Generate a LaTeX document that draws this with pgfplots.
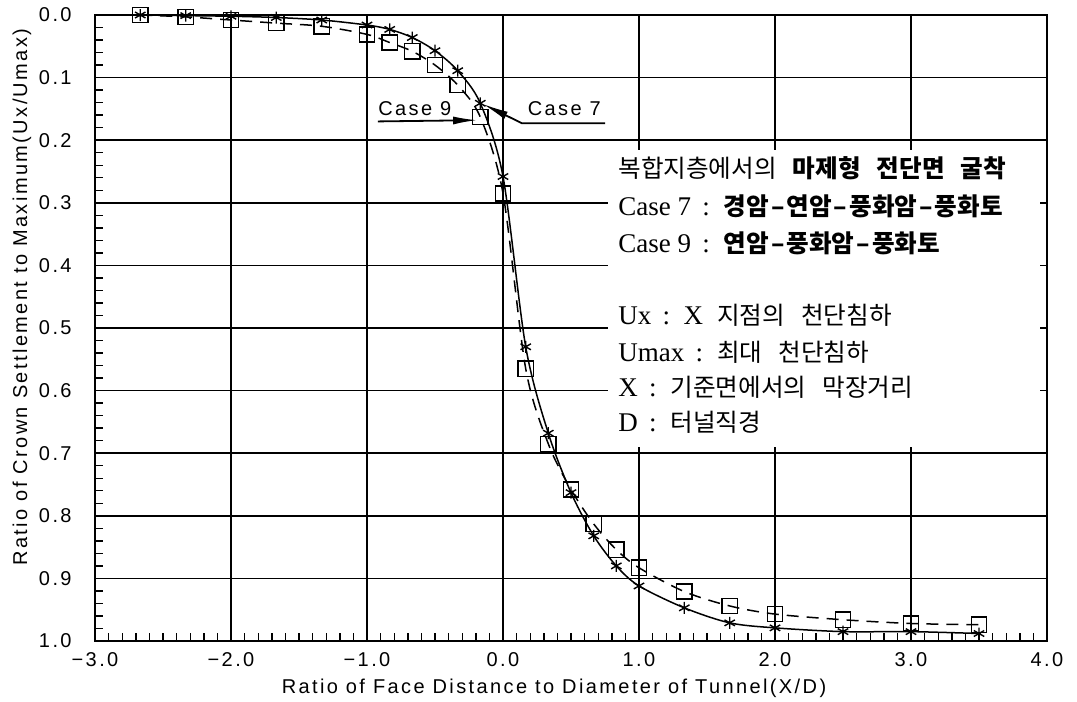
\documentclass[border=0pt]{standalone}
\usepackage{pgfplots}
\pgfplotsset{compat=1.18}
\usepackage{fontspec}
\setmainfont{Liberation Serif}
\newfontfamily\plotfont[LetterSpace=12]{Liberation Sans}
\newfontfamily\kr{Noto Sans CJK KR}
\usetikzlibrary{arrows.meta}
\pgfplotstableread{
x y
-2.667 0.000
-2.333 0.001
-2.000 0.002
-1.667 0.004
-1.333 0.008
-1.000 0.016
-0.833 0.023
-0.667 0.036
-0.500 0.057
-0.333 0.089
-0.167 0.141
0.000 0.258
0.167 0.530
0.333 0.668
0.500 0.763
0.667 0.832
0.833 0.880
1.000 0.912
1.333 0.947
1.667 0.971
2.000 0.979
2.500 0.985
3.000 0.985
3.500 0.988
}\casesevenT
\pgfplotstableread{
x y
-2.667 0.000
-2.333 0.003
-2.000 0.008
-1.667 0.013
-1.333 0.018
-1.000 0.031
-0.833 0.044
-0.667 0.058
-0.500 0.080
-0.333 0.112
-0.167 0.163
0.000 0.285
0.167 0.565
0.333 0.685
0.500 0.758
0.667 0.813
0.833 0.854
1.000 0.883
1.333 0.921
1.667 0.944
2.000 0.957
2.500 0.966
3.000 0.972
3.500 0.974
}\caseNineT
\newcommand{\pf}{\plotfont\fontsize{10}{11}\selectfont}
\newcommand{\kt}{\fontsize{13.5}{15}\selectfont}
\newcommand{\kf}{\kr\fontsize{12.3}{14}\selectfont}
\newcommand{\dsh}{\hspace{1pt}–\hspace{1pt}}
\begin{document}
\begin{tikzpicture}
\begin{axis}[
  scale only axis, width=476pt, height=313pt,
  xmin=-3, xmax=4, ymin=0, ymax=1, y dir=reverse,
  xtick={-3,-2,-1,0,1,2,3,4},
  xticklabels={−3.0,−2.0,−1.0,0.0,1.0,2.0,3.0,4.0},
  ytick={0,0.1,0.2,0.3,0.4,0.5,0.6,0.7,0.8,0.9,1},
  yticklabels={0.0,0.1,0.2,0.3,0.4,0.5,0.6,0.7,0.8,0.9,1.0},
  minor x tick num=9, minor y tick num=4,
  tick align=inside, tick pos=left,
  major tick length=5pt, minor tick length=4pt,
  tick style={black, line width=0.7pt},
  grid=major, major grid style={black, line width=0.75pt},
  axis line style={line width=0.8pt},
  ticklabel style={font=\pf},
  yticklabel style={inner sep=0pt, xshift=-11.5pt},
  xticklabel style={inner sep=0pt, yshift=-5.5pt},
]
\addplot[black, line width=0.75pt, smooth, tension=0.5, mark=asterisk, mark size=3pt, mark options={solid, line width=0.7pt}] table[x=x,y=y] {\casesevenT};
\addplot[black, line width=0.75pt, smooth, tension=0.5, dash pattern=on 6pt off 4pt, mark=square, mark size=3.8pt, mark options={solid, line width=0.7pt}] table[x=x,y=y] {\caseNineT};
% leader lines
\draw[black, line width=0.9pt, -{Latex[length=12pt,width=4pt]}] (axis cs:-0.92,0.170) -- (axis cs:-0.19,0.168);
\draw[black, line width=0.9pt, -{Latex[length=13pt,width=4pt]}] (axis cs:0.75,0.173) -- (axis cs:0.14,0.173) -- (axis cs:-0.15,0.142);
\node[anchor=base west, inner sep=0pt, font=\pf] at (axis cs:-0.92,0.160) {Case 9};
\node[anchor=base west, inner sep=0pt, font=\pf] at (axis cs:0.18,0.160) {Case 7};
% text box
\fill[white] (axis cs:0.77,0.216) rectangle (axis cs:3.95,0.69);
\node[anchor=base west, inner sep=0pt, font=\kt] at (axis cs:0.846,0.260) {{\kf 복합지층에서의}\hspace{8pt}{\kf\bfseries 마제형\hspace{8pt}전단면\hspace{8pt}굴착}};
\node[anchor=base west, inner sep=0pt, font=\kt] at (axis cs:0.846,0.320) {Case 7 \,:\hspace{7pt}{\kf\bfseries 경암\dsh 연암\dsh 풍화암\dsh 풍화토}};
\node[anchor=base west, inner sep=0pt, font=\kt] at (axis cs:0.846,0.379) {Case 9 \,:\hspace{7pt}{\kf\bfseries 연암\dsh 풍화암\dsh 풍화토}};
\node[anchor=base west, inner sep=0pt, font=\kt] at (axis cs:0.846,0.495) {Ux \,:\, X\hspace{7pt}{\kf 지점의\hspace{8pt}천단침하}};
\node[anchor=base west, inner sep=0pt, font=\kt] at (axis cs:0.846,0.554) {Umax \,:\hspace{7pt}{\kf 최대\hspace{8pt}천단침하}};
\node[anchor=base west, inner sep=0pt, font=\kt] at (axis cs:0.846,0.610) {X \,:\hspace{7pt}{\kf 기준면에서의\hspace{8pt}막장거리}};
\node[anchor=base west, inner sep=0pt, font=\kt] at (axis cs:0.846,0.666) {D \,:\hspace{7pt}{\kf 터널직경}};
\end{axis}
\node[font=\pf] at ([shift={(-8.5pt,-23.5pt)}]current axis.south) {Ratio of Face Distance to Diameter of Tunnel(X/D)};
\node[font=\pf, rotate=90] at ([shift={(-36.5pt,15.5pt)}]current axis.west) {Ratio of Crown Settlement to Maximum(Ux/Umax)};
\pgfresetboundingbox
\useasboundingbox ([shift={(-47.5pt,-30pt)}]current axis.south west) rectangle ([shift={(15pt,7.5pt)}]current axis.north east);
\end{tikzpicture}
\end{document}
